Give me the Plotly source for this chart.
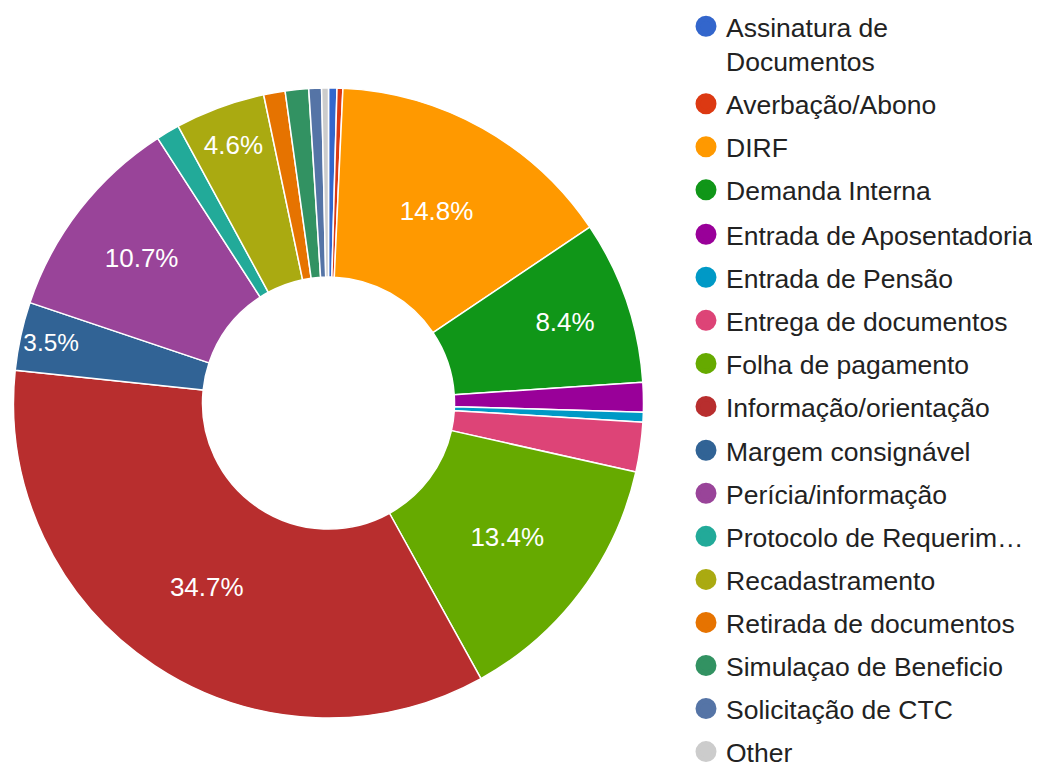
import plotly.graph_objects as go

categories = [
    "Assinatura de<br>Documentos", "Averbação/Abono", "DIRF", "Demanda Interna",
    "Entrada de Aposentadoria", "Entrada de Pensão", "Entrega de documentos",
    "Folha de pagamento", "Informação/orientação", "Margem consignável",
    "Perícia/informação", "Protocolo de Requerim…", "Recadastramento",
    "Retirada de documentos", "Simulaçao de Beneficio", "Solicitação de CTC", "Other",
]
values = [0.43, 0.30, 14.84, 8.38, 1.52, 0.50, 2.55, 13.44, 34.70, 3.50,
          10.72, 1.20, 4.62, 1.10, 1.20, 0.65, 0.35]
colors = ["#3366cc", "#dc3912", "#ff9900", "#109618", "#990099", "#0099c6",
          "#dd4477", "#66aa00", "#b82e2e", "#316395", "#994499", "#22aa99",
          "#aaaa11", "#e67300", "#329262", "#5574a6", "#cccccc"]

FONT = "Liberation Sans, Arial, sans-serif"
total = sum(values)
templates = ["%{percent:.1%}" if v / total > 0.03 else "" for v in values]

cx, cy, r = 320.5, 369, 315  # domain centre x from left, y from bottom (px), radius

fig = go.Figure()
fig.add_trace(go.Pie(
    labels=categories, values=values, hole=0.40, sort=False,
    direction="clockwise", rotation=0,
    marker=dict(colors=colors, line=dict(color="white", width=1.5)),
    texttemplate=templates, textposition="inside",
    insidetextorientation="horizontal",
    insidetextfont=dict(family=FONT, size=26, color="white"),
    domain=dict(x=[(cx - r) / 1040, (cx + r) / 1040],
                y=[(cy - r) / 764, (cy + r) / 764]),
    showlegend=False, hoverinfo="label+percent",
))

# legend blocks (item index ranges) and the top edge of each block in px
blocks = [("legend", 0, 4, -5.5), ("legend2", 4, 9, 202.5), ("legend3", 9, 17, 418.5)]

def block_of(i):
    for name, a, b, _ in blocks:
        if a <= i < b:
            return name

for i, (name, col) in enumerate(zip(categories, colors)):
    fig.add_trace(go.Scatter(
        x=[None], y=[None], mode="markers", name=name,
        marker=dict(symbol="circle", size=16, color=col,
                    line=dict(color=col, width=5)),
        legendgroup="g%d" % i, showlegend=True,
        legend=block_of(i),
    ))

legend_common = dict(
    xanchor="left", yanchor="top",
    font=dict(family=FONT, size=26.5, color="#222222"),
    traceorder="grouped", tracegroupgap=5.6, valign="top",
    itemsizing="trace", bgcolor="rgba(0,0,0,0)",
)

layout_legends = {
    name: dict(x=678 / 1040, y=1 - top / 764, **legend_common)
    for name, _, _, top in blocks
}

fig.update_layout(
    width=1040, height=764,
    margin=dict(l=0, r=0, t=0, b=0, autoexpand=False),
    paper_bgcolor="white", plot_bgcolor="white",
    xaxis=dict(visible=False, domain=[0.99, 1.0]),
    yaxis=dict(visible=False, domain=[0.99, 1.0]),
    **layout_legends,
)

fig.write_html("out.html")
